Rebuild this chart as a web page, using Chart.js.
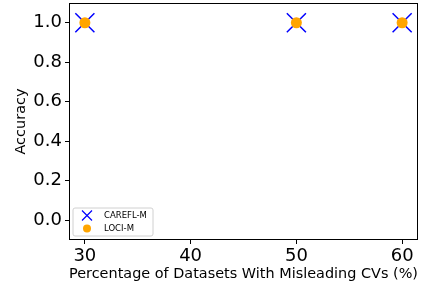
<!DOCTYPE html>
<html>
<head>
<meta charset="utf-8">
<script src="https://cdn.jsdelivr.net/npm/chart.js@4/dist/chart.umd.min.js"></script>
<style>
html,body{margin:0;padding:0;background:#fff;}
#wrap{width:421px;height:289px;}
</style>
</head>
<body>
<div id="wrap"><canvas id="c" width="421" height="289"></canvas></div>
<script>
const percentages = [30, 50, 60];
const careflAccuracy = [1.0, 1.0, 1.0];
const lociAccuracy = [1.0, 1.0, 1.0];
const xTicks = [30, 40, 50, 60];
const yTicks = [0.0, 0.2, 0.4, 0.6, 0.8, 1.0];
const seriesNames = ['CAREFL-M', 'LOCI-M'];

const FONT = "'DejaVu Sans', sans-serif";

function zeroPad(s) { s.paddingLeft = 0; s.paddingRight = 0; s.paddingTop = 0; s.paddingBottom = 0; }

const framePlugin = {
  id: 'frame',
  afterDatasetsDraw(chart) {
    const {ctx, chartArea: a} = chart;
    ctx.save();
    ctx.strokeStyle = '#000';
    ctx.lineWidth = 1;
    ctx.strokeRect(Math.round(a.left) + 0.5, Math.round(a.top) + 0.5,
      Math.round(a.right - a.left) - 1, Math.round(a.bottom - a.top) - 1);
    ctx.restore();
  }
};

const legendPlugin = {
  id: 'innerLegend',
  afterDraw(chart) {
    const {ctx, chartArea: a} = chart;
    const x0 = a.left + 4, y0 = a.bottom - 32, w = 80, h = 28, r = 2;
    ctx.save();
    ctx.beginPath();
    ctx.moveTo(x0 + r, y0);
    ctx.lineTo(x0 + w - r, y0);
    ctx.quadraticCurveTo(x0 + w, y0, x0 + w, y0 + r);
    ctx.lineTo(x0 + w, y0 + h - r);
    ctx.quadraticCurveTo(x0 + w, y0 + h, x0 + w - r, y0 + h);
    ctx.lineTo(x0 + r, y0 + h);
    ctx.quadraticCurveTo(x0, y0 + h, x0, y0 + h - r);
    ctx.lineTo(x0, y0 + r);
    ctx.quadraticCurveTo(x0, y0, x0 + r, y0);
    ctx.closePath();
    ctx.fillStyle = 'rgba(255,255,255,0.8)';
    ctx.fill();
    ctx.strokeStyle = '#d0d0d0';
    ctx.lineWidth = 1;
    ctx.stroke();
    const ds = chart.data.datasets;
    const mx = x0 + 14;
    const rows = [y0 + 7.5, y0 + 20.5];
    ds.forEach((d, i) => {
      const yy = rows[i];
      if (d.pointStyle === 'crossRot') {
        ctx.strokeStyle = d.borderColor;
        ctx.lineWidth = 1.2;
        ctx.beginPath();
        ctx.moveTo(mx - 5, yy - 5); ctx.lineTo(mx + 5, yy + 5);
        ctx.moveTo(mx + 5, yy - 5); ctx.lineTo(mx - 5, yy + 5);
        ctx.stroke();
      } else {
        ctx.fillStyle = d.backgroundColor;
        ctx.beginPath();
        ctx.arc(mx, yy, 4, 0, Math.PI * 2);
        ctx.fill();
      }
      ctx.fillStyle = '#000';
      ctx.font = '8.5px ' + FONT;
      ctx.textBaseline = 'middle';
      ctx.textAlign = 'left';
      ctx.fillText(d.label, x0 + 31, yy);
    });
    ctx.restore();
  }
};

new Chart(document.getElementById('c'), {
  type: 'scatter',
  data: {
    datasets: [
      {
        label: seriesNames[0],
        data: percentages.map((x, i) => ({x: x, y: careflAccuracy[i]})),
        pointStyle: 'crossRot',
        pointRadius: 13.5,
        pointHoverRadius: 13.5,
        borderColor: '#0000ff',
        backgroundColor: '#0000ff',
        borderWidth: 1.5,
        order: 1
      },
      {
        label: seriesNames[1],
        data: percentages.map((x, i) => ({x: x, y: lociAccuracy[i]})),
        pointStyle: 'circle',
        pointRadius: 5.5,
        pointHoverRadius: 5.5,
        borderWidth: 0,
        borderColor: '#ffa500',
        backgroundColor: '#ffa500',
        order: 0
      }
    ]
  },
  options: {
    responsive: false,
    animation: false,
    devicePixelRatio: 1,
    layout: {autoPadding: false, padding: {top: 3, right: 3, left: 0, bottom: 0}},
    plugins: {legend: {display: false}, tooltip: {enabled: false}},
    scales: {
      x: {
        type: 'linear',
        min: 28.5,
        max: 61.5,
        afterBuildTicks(s) { s.ticks = xTicks.map(v => ({value: v})); },
        afterFit(s) { s.height = 49; zeroPad(s); },
        grid: {display: true, drawOnChartArea: false, drawTicks: true, tickLength: 4, color: '#000', tickColor: '#000'},
        border: {display: false},
        ticks: {color: '#000', font: {family: FONT, size: 18}, padding: 2, maxRotation: 0, callback: v => String(v)},
        title: {display: true, text: 'Percentage of Datasets With Misleading CVs (%)', color: '#000', font: {family: FONT, size: 14.5}, padding: {top: 0, bottom: 6}}
      },
      y: {
        type: 'linear',
        min: -0.1,
        max: 1.1,
        afterBuildTicks(s) { s.ticks = yTicks.map(v => ({value: v})); },
        afterFit(s) { s.width = 69; zeroPad(s); },
        grid: {display: true, drawOnChartArea: false, drawTicks: true, tickLength: 4, color: '#000', tickColor: '#000'},
        border: {display: false},
        ticks: {color: '#000', font: {family: FONT, size: 18}, padding: 3, callback: v => v.toFixed(1)},
        title: {display: true, text: 'Accuracy', color: '#000', font: {family: FONT, size: 14.5}, padding: {top: 13, bottom: 0}}
      }
    }
  },
  plugins: [framePlugin, legendPlugin]
});
</script>
</body>
</html>
